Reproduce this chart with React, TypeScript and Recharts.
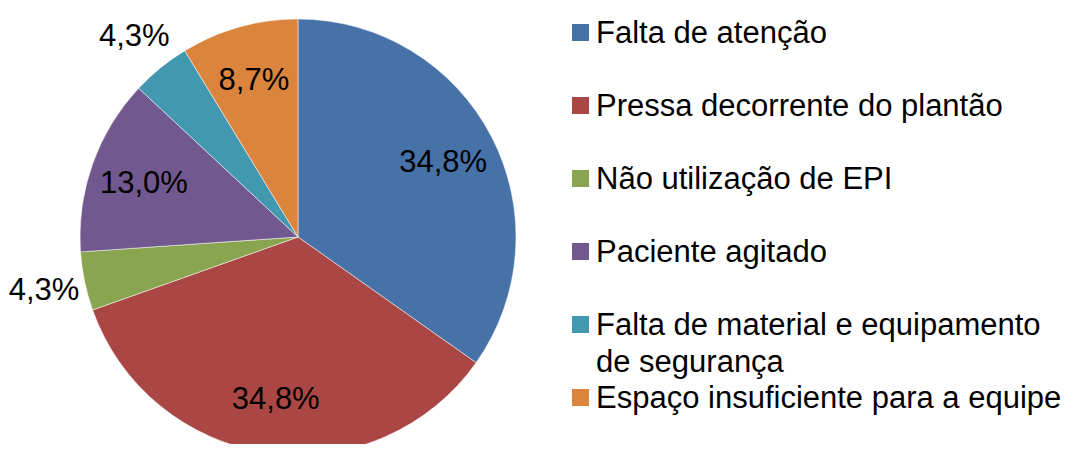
import React from 'react';
import { PieChart, Pie, Cell, Legend } from 'recharts';

const categories = [
    'Falta de atenção',
    'Pressa decorrente do plantão',
    'Não utilização de EPI',
    'Paciente agitado',
    'Falta de material e equipamento de segurança',
    'Espaço insuficiente para a equipe',
];
const counts = [8, 8, 1, 3, 1, 2];
const sliceColors = ['#4672A8', '#AA4744', '#8AA54F', '#71588F', '#4298AF', '#DB843E'];

const data = categories.map((name, i) => ({ name, value: counts[i] }));

const FONT = '"Liberation Sans", Arial, sans-serif';
const RAD = Math.PI / 180;

const renderLabel = (props: any) => {
    const { cx, cy, midAngle, outerRadius, percent } = props;
    // small slices get their label outside the pie, like the original
    const r = percent < 0.05 ? outerRadius * 1.19 : outerRadius * 0.75;
    const x = cx + r * Math.cos(-midAngle * RAD);
    const y = cy + r * Math.sin(-midAngle * RAD);
    const txt = (percent * 100).toFixed(1).replace('.', ',') + '%';
    return (
        <text x={x} y={y} fill="#000" fontSize={31} fontFamily={FONT} textAnchor="middle" dominantBaseline="central">
            {txt}
        </text>
    );
};

// legend keeps the data order (recharts would sort it otherwise)
const renderLegend = () => (
    <div style={{ position: 'relative', fontFamily: FONT, fontSize: 31, color: '#000' }}>
        {categories.map((name, i) => (
            <div key={name} style={{ position: 'absolute', top: 14 + i * 73, left: 0, display: 'flex', alignItems: 'flex-start' }}>
                <span style={{ width: 17, height: 17, marginTop: 10, marginRight: 7, background: sliceColors[i], flex: 'none' }} />
                <span style={{ lineHeight: '37px', maxWidth: 472 }}>{name}</span>
            </div>
        ))}
    </div>
);

export default function App() {
    return (
        <div style={{ margin: -8, width: 1078, height: 452, background: '#fff', overflow: 'hidden' }}>
            <PieChart width={1078} height={452} margin={{ top: 0, right: 0, bottom: 0, left: 0 }}>
                <Pie
                    data={data}
                    dataKey="value"
                    nameKey="name"
                    cx={298}
                    cy={237}
                    outerRadius={218}
                    startAngle={90}
                    endAngle={-270}
                    stroke="#ffffff"
                    strokeWidth={0.5}
                    label={renderLabel}
                    labelLine={false}
                    isAnimationActive={false}
                >
                    {data.map((d, i) => (
                        <Cell key={d.name} fill={sliceColors[i]} />
                    ))}
                </Pie>
                <Legend
                    content={renderLegend}
                    wrapperStyle={{ left: 572, top: 0, width: 500, height: 452 }}
                />
            </PieChart>
        </div>
    );
}
